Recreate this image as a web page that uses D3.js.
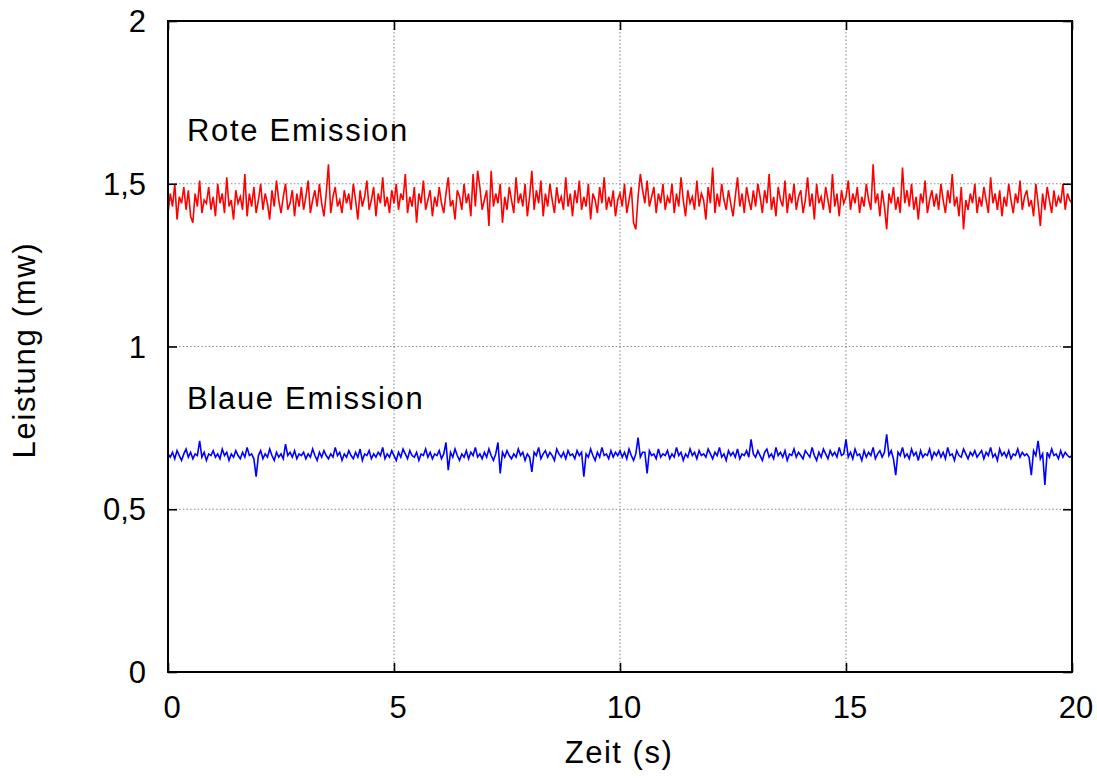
<!DOCTYPE html>
<html>
<head>
<meta charset="utf-8">
<script src="https://cdn.jsdelivr.net/npm/d3@7"></script>
<style>
html,body{margin:0;padding:0;background:#fff;}
text{font-family:"Liberation Sans",Arial,Helvetica,sans-serif;fill:#000;}
</style>
</head>
<body>
<svg id="chart" width="1097" height="778"></svg>
<script>
// ---- data ----
const xTicks = [0, 5, 10, 15, 20];
const xTickLabels = ["0", "5", "10", "15", "20"];
const yTicks = [0, 0.5, 1, 1.5, 2];
const yTickLabels = ["0", "0,5", "1", "1,5", "2"];
const xLabel = "Zeit (s)";
const yLabel = "Leistung (mw)";
const seriesNames = ["Rote Emission", "Blaue Emission"];
const sampleStep = 0.05; // s

const rotValues = [
1.41,1.47,1.43,1.50,1.39,1.46,1.44,1.49,1.42,1.48,1.40,1.38,1.47,1.43,1.51,1.41,1.45,1.44,1.49,1.42,
1.46,1.40,1.50,1.44,1.47,1.41,1.52,1.43,1.45,1.39,1.48,1.44,1.46,1.42,1.53,1.40,1.47,1.43,1.49,1.41,
1.45,1.50,1.42,1.47,1.44,1.39,1.48,1.43,1.51,1.45,1.41,1.46,1.50,1.42,1.44,1.48,1.40,1.47,1.43,1.49,
1.42,1.46,1.51,1.41,1.45,1.48,1.43,1.50,1.44,1.40,1.47,1.56,1.41,1.46,1.49,1.43,1.45,1.41,1.48,1.44,
1.47,1.42,1.50,1.45,1.39,1.48,1.43,1.46,1.51,1.42,1.45,1.49,1.40,1.47,1.44,1.52,1.43,1.46,1.41,1.48,
1.44,1.50,1.42,1.47,1.45,1.53,1.41,1.46,1.43,1.49,1.38,1.47,1.44,1.51,1.42,1.45,1.48,1.40,1.46,1.43,
1.49,1.44,1.41,1.47,1.52,1.43,1.45,1.39,1.48,1.46,1.42,1.50,1.44,1.47,1.40,1.53,1.43,1.54,1.49,1.42,
1.45,1.48,1.37,1.54,1.43,1.47,1.44,1.50,1.38,1.46,1.42,1.49,1.45,1.41,1.52,1.44,1.47,1.43,1.50,1.40,
1.46,1.54,1.42,1.48,1.44,1.51,1.40,1.47,1.43,1.50,1.45,1.41,1.49,1.44,1.46,1.42,1.52,1.43,1.47,1.40,
1.48,1.44,1.51,1.42,1.46,1.43,1.50,1.39,1.47,1.45,1.41,1.49,1.44,1.52,1.42,1.46,1.43,1.48,1.40,1.45,
1.47,1.43,1.50,1.41,1.45,1.49,1.38,1.36,1.46,1.53,1.48,1.44,1.51,1.43,1.46,1.49,1.41,1.47,1.44,1.50,
1.42,1.46,1.44,1.50,1.41,1.47,1.43,1.52,1.45,1.40,1.48,1.44,1.46,1.42,1.51,1.43,1.47,1.45,1.39,1.49,
1.44,1.55,1.41,1.47,1.43,1.50,1.45,1.42,1.48,1.44,1.40,1.46,1.52,1.43,1.47,1.41,1.49,1.45,1.42,1.48,
1.43,1.50,1.46,1.41,1.48,1.44,1.53,1.42,1.46,1.40,1.49,1.45,1.43,1.51,1.41,1.47,1.44,1.50,1.42,1.46,
1.48,1.41,1.45,1.52,1.43,1.47,1.39,1.50,1.44,1.46,1.42,1.49,1.45,1.41,1.53,1.43,1.47,1.40,1.48,1.44,
1.46,1.51,1.42,1.47,1.44,1.49,1.41,1.46,1.43,1.50,1.45,1.42,1.56,1.44,1.47,1.40,1.48,1.43,1.36,1.47,
1.44,1.49,1.42,1.46,1.41,1.55,1.44,1.48,1.43,1.50,1.42,1.46,1.39,1.47,1.44,1.51,1.41,1.45,1.48,1.43,
1.47,1.42,1.50,1.45,1.41,1.48,1.44,1.53,1.43,1.46,1.40,1.49,1.36,1.45,1.42,1.47,1.44,1.50,1.41,1.46,
1.43,1.49,1.45,1.41,1.52,1.44,1.47,1.42,1.48,1.40,1.46,1.43,1.50,1.45,1.41,1.47,1.44,1.51,1.42,1.46,
1.48,1.43,1.45,1.40,1.50,1.44,1.37,1.47,1.42,1.49,1.45,1.41,1.48,1.43,1.46,1.44,1.50,1.42,1.47,1.45,
1.44
];

const blauValues = [
0.67,0.66,0.675,0.655,0.68,0.665,0.65,0.67,0.685,0.66,0.675,0.655,0.67,0.665,0.71,0.66,0.675,0.65,0.67,0.665,
0.68,0.66,0.67,0.655,0.685,0.665,0.675,0.65,0.67,0.66,0.68,0.665,0.655,0.675,0.66,0.69,0.665,0.67,0.655,0.60,
0.665,0.68,0.655,0.67,0.66,0.685,0.665,0.65,0.675,0.66,0.67,0.655,0.70,0.665,0.675,0.66,0.68,0.655,0.67,0.665,
0.675,0.655,0.67,0.66,0.685,0.665,0.65,0.675,0.66,0.68,0.665,0.655,0.67,0.66,0.69,0.665,0.675,0.65,0.67,0.66,
0.68,0.665,0.655,0.675,0.66,0.685,0.65,0.67,0.665,0.68,0.655,0.67,0.66,0.675,0.665,0.69,0.655,0.67,0.66,0.68,
0.665,0.65,0.675,0.66,0.685,0.67,0.655,0.68,0.665,0.66,0.675,0.65,0.67,0.665,0.685,0.66,0.675,0.655,0.67,0.665,
0.68,0.655,0.67,0.705,0.62,0.675,0.66,0.685,0.665,0.65,0.67,0.66,0.68,0.655,0.675,0.665,0.69,0.66,0.67,0.655,
0.675,0.66,0.685,0.665,0.65,0.67,0.705,0.61,0.675,0.66,0.68,0.665,0.655,0.67,0.66,0.685,0.665,0.675,0.65,0.67,
0.66,0.615,0.675,0.665,0.69,0.655,0.67,0.68,0.66,0.675,0.665,0.65,0.685,0.67,0.66,0.675,0.655,0.68,0.665,0.67,
0.655,0.68,0.665,0.675,0.60,0.67,0.66,0.685,0.665,0.65,0.675,0.66,0.69,0.665,0.67,0.655,0.68,0.66,0.675,0.665,
0.68,0.66,0.675,0.655,0.685,0.665,0.65,0.67,0.72,0.66,0.675,0.675,0.61,0.68,0.665,0.67,0.655,0.685,0.66,0.67,
0.665,0.68,0.655,0.67,0.66,0.69,0.665,0.675,0.65,0.67,0.66,0.685,0.665,0.675,0.655,0.68,0.665,0.67,0.66,0.685,
0.67,0.655,0.675,0.665,0.69,0.66,0.67,0.65,0.68,0.665,0.675,0.66,0.685,0.655,0.67,0.665,0.68,0.66,0.715,0.67,
0.66,0.68,0.665,0.65,0.675,0.685,0.66,0.67,0.655,0.69,0.665,0.675,0.66,0.68,0.65,0.67,0.665,0.685,0.66,0.675,
0.665,0.655,0.68,0.67,0.66,0.69,0.665,0.65,0.675,0.66,0.685,0.67,0.655,0.68,0.665,0.675,0.66,0.69,0.665,0.67,
0.715,0.66,0.675,0.655,0.685,0.665,0.67,0.65,0.68,0.66,0.675,0.665,0.69,0.655,0.67,0.68,0.66,0.675,0.73,0.665,
0.68,0.655,0.605,0.675,0.665,0.69,0.66,0.67,0.655,0.685,0.665,0.675,0.65,0.68,0.66,0.67,0.665,0.685,0.655,0.675,
0.665,0.68,0.66,0.675,0.655,0.69,0.665,0.67,0.65,0.68,0.665,0.66,0.685,0.67,0.655,0.675,0.665,0.68,0.66,0.67,
0.68,0.655,0.675,0.665,0.69,0.66,0.67,0.65,0.685,0.665,0.675,0.66,0.68,0.655,0.67,0.665,0.685,0.66,0.675,0.665,
0.67,0.66,0.605,0.68,0.665,0.71,0.655,0.67,0.575,0.675,0.66,0.685,0.665,0.67,0.655,0.68,0.66,0.675,0.665,0.66,
0.665
];

// ---- layout ----
const W = 1097, H = 778;
const margin = {left: 168, top: 21, right: 25, bottom: 106};
const pw = W - margin.left - margin.right;   // 904
const ph = H - margin.top - margin.bottom;   // 651

const svg = d3.select("#chart");
const g = svg.append("g").attr("transform", `translate(${margin.left},${margin.top})`);

const x = d3.scaleLinear().domain([0, 20]).range([0, pw]);
const y = d3.scaleLinear().domain([0, 2]).range([ph, 0]);

// grid
const gridStyle = sel => sel.attr("stroke", "#8a8a8a").attr("stroke-width", 1.1).attr("stroke-dasharray", "1.5,2.2");
g.append("g").selectAll("line").data(xTicks.slice(1, -1)).join("line")
  .attr("x1", d => x(d)).attr("x2", d => x(d)).attr("y1", 0).attr("y2", ph).call(gridStyle);
g.append("g").selectAll("line").data(yTicks.slice(1, -1)).join("line")
  .attr("x1", 0).attr("x2", pw).attr("y1", d => y(d)).attr("y2", d => y(d)).call(gridStyle);

// series
const line = d3.line().x((d, i) => x(i * sampleStep)).y(d => y(d));
g.append("path").datum(blauValues).attr("d", line)
  .attr("fill", "none").attr("stroke", "#0000ff").attr("stroke-width", 1.6);
g.append("path").datum(rotValues).attr("d", line)
  .attr("fill", "none").attr("stroke", "#ff0000").attr("stroke-width", 1.6);

// axes (inward ticks, mirrored)
const tickLen = 9;
const axStyle = sel => {
  sel.select(".domain").remove();
  sel.selectAll(".tick line").attr("stroke", "#000").attr("stroke-width", 1.6);
  sel.selectAll(".tick text").remove();
};
g.append("g").attr("transform", `translate(0,${ph})`)
  .call(d3.axisBottom(x).tickValues(xTicks).tickSize(-tickLen)).call(axStyle);
g.append("g")
  .call(d3.axisTop(x).tickValues(xTicks).tickSize(-tickLen)).call(axStyle);
g.append("g")
  .call(d3.axisLeft(y).tickValues(yTicks).tickSize(-tickLen)).call(axStyle);
g.append("g").attr("transform", `translate(${pw},0)`)
  .call(d3.axisRight(y).tickValues(yTicks).tickSize(-tickLen)).call(axStyle);

// frame
g.append("rect").attr("x", 0).attr("y", 0).attr("width", pw).attr("height", ph)
  .attr("fill", "none").attr("stroke", "#000").attr("stroke-width", 2);

// tick labels
const fs = 31;
g.append("g").selectAll("text").data(xTicks).join("text")
  .attr("x", d => x(d) + 4).attr("y", ph + 46)
  .attr("text-anchor", "middle").attr("font-size", fs)
  .text((d, i) => xTickLabels[i]);
g.append("g").selectAll("text").data(yTicks).join("text")
  .attr("x", -22).attr("y", d => y(d) + 11)
  .attr("text-anchor", "end").attr("font-size", fs)
  .text((d, i) => yTickLabels[i]);

// axis titles
svg.append("text").attr("x", margin.left + pw / 2 - 1).attr("y", 763)
  .attr("text-anchor", "middle").attr("font-size", fs).attr("letter-spacing", 1.5)
  .text(xLabel);
svg.append("text").attr("transform", "translate(35,350) rotate(-90)")
  .attr("text-anchor", "middle").attr("font-size", fs).attr("letter-spacing", 1.7)
  .text(yLabel);

// series labels
svg.append("text").attr("x", 187).attr("y", 141)
  .attr("font-size", fs).attr("letter-spacing", 1.7).text(seriesNames[0]);
svg.append("text").attr("x", 187).attr("y", 409)
  .attr("font-size", fs).attr("letter-spacing", 1.7).text(seriesNames[1]);
</script>
</body>
</html>
